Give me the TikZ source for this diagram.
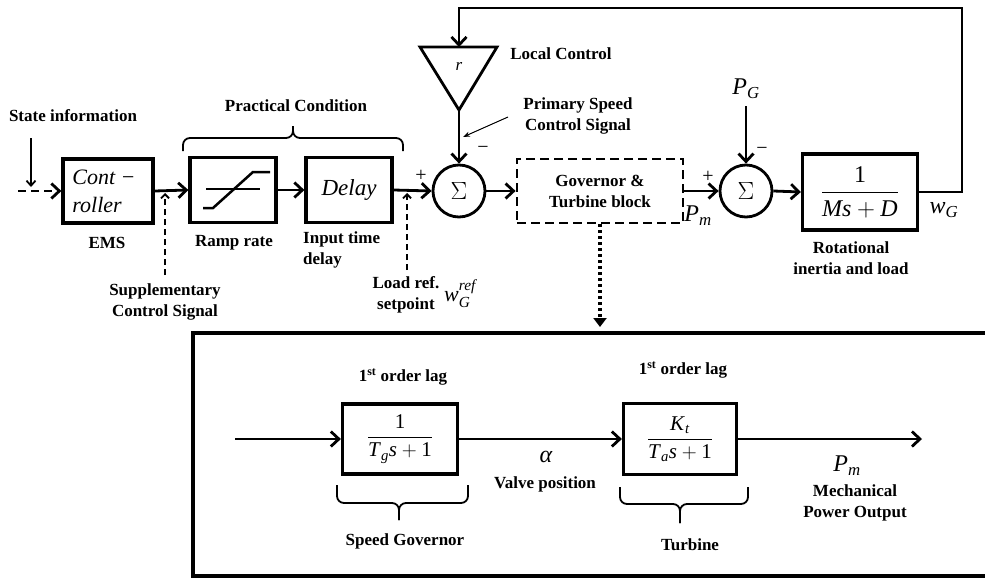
\documentclass[tikz,border=0pt]{standalone}
\usepackage{amsmath}
\usepackage{fontspec}
\setmainfont{Liberation Serif}
\usetikzlibrary{arrows.meta,calc}
\newcommand{\vi}[1]{\text{\textit{#1}}}
\begin{document}
\begin{tikzpicture}[x=1pt,y=-1pt,
  lbl/.style={font=\fontsize{17}{21}\selectfont\bfseries, align=center, inner sep=0pt},
  mth/.style={font=\fontsize{24}{26}\selectfont, inner sep=0pt},
  sgn/.style={font=\fontsize{20}{20}\selectfont, inner sep=0pt},
  blk/.style={draw, line width=3.2pt, inner sep=0pt},
  sumc/.style={draw, circle, line width=2.8pt, minimum size=52pt, inner sep=0pt, font=\fontsize{25}{25}\selectfont},
  arr/.style={line width=2.8pt, -{Straight Barb[length=8pt,width=15pt]}},
  darr/.style={line width=1.8pt, dash pattern=on 6pt off 4pt, -{Straight Barb[length=4pt,width=8pt]}},
  brc/.style={line width=1.8pt, rounded corners=7pt}]
\useasboundingbox (0,0) rectangle (985,578);

% ---------- upper loop: blocks ----------
\node[blk, minimum width=90pt, minimum height=64pt] (ctrl) at (108,191) {};
\node[font=\fontsize{22}{28}\selectfont\itshape, align=left, inner sep=0pt] (ctrltxt) at (104,191) {Cont \textminus\\roller};
\node[blk, minimum width=86pt, minimum height=65pt] (ramp) at (233,190) {};
\node[blk, minimum width=86pt, minimum height=65pt, font=\fontsize{23}{23}\selectfont\itshape] (delay) at (349,190) {Delay};
\node[sumc] (sum1) at (459,191) {$\Sigma$};
\node[draw, line width=2.8pt, dash pattern=on 9pt off 5pt, minimum width=166pt, minimum height=64pt,
      lbl] (gov) at (600,191) {Governor \&\\Turbine block};
\node[sumc] (sum2) at (746,191) {$\Sigma$};
\node[blk, minimum width=115pt, minimum height=76pt, mth] (rot) at (860,192) {$\dfrac{\text{1}}{\vi{Ms}+\vi{D}}$};

% ramp-rate limiter symbol
\draw[line width=2pt] (206,189) -- (260,189);
\draw[line width=2.5pt] (203,208) -- (213,208) -- (253,172) -- (270,172);

% gain triangle of the local control
\coordinate (tl) at (420,47);
\coordinate (tr) at (497,47);
\coordinate (tap) at (459,110);
\coordinate (ttop) at (459,47);
\draw[line width=2.8pt, line join=miter] (tl) -- (tr) -- (tap) -- cycle;
\node[font=\fontsize{17}{17}\selectfont\itshape, inner sep=0pt] (rgain) at (459,66) {r};

% ---------- upper loop: signals ----------
\coordinate (in0) at (18,191);
\draw[line width=2.8pt, dash pattern=on 8pt off 5pt, -{Straight Barb[length=8pt,width=15pt]}] (in0) -- (ctrl.west);
\coordinate (st0) at (31,138);
\coordinate (st1) at (31,187);
\draw[line width=1.8pt, -{Straight Barb[length=5pt,width=9pt]}] (st0) -- (st1);
\draw[arr] (ctrl.east) -- (ramp.west);
\draw[arr] (ramp.east) -- (delay.west);
\draw[arr] (delay.east) -- (sum1.west);
\coordinate (sup0) at (165,275);
\coordinate (sup1) at (165,193);
\draw[darr] (sup0) -- (sup1);
\coordinate (lr0) at (407,270);
\coordinate (lr1) at (407,193);
\draw[darr] (lr0) -- (lr1);
\draw[arr] (tap) -- (sum1.north);
\draw[arr] (sum1.east) -- (gov.west);
\draw[arr] (gov.east) -- (sum2.west);
\coordinate (pg0) at (746,106);
\draw[arr] (pg0) -- (sum2.north);
\draw[arr] (sum2.east) -- (rot.west);
\coordinate (fbR) at (962,8);
\coordinate (fbL) at (459,8);
\draw[arr] (rot.east) -| (fbR) -- (fbL) -- (ttop);
\coordinate (ps0) at (508,117);
\coordinate (ps1) at (463,137);
\draw[line width=1pt, -{Stealth[length=7pt,width=5pt]}] (ps0) -- (ps1);
\coordinate (dt1) at (600,327);
\draw[line width=3.2pt, dash pattern=on 3pt off 3pt, -{Triangle[length=9pt,width=13pt]}] (gov.south) -- (dt1);

% brace over the practical conditions (tip up)
\draw[brc] (183,151) -- (183,138) -- (293,138) -- (293,126);
\draw[brc] (403,151) -- (403,138) -- (293,138) -- (293,126);

% ---------- upper loop: labels ----------
\node[lbl] (lstate) at (73,116) {State information};
\node[lbl] (lpract) at (296,106) {Practical Condition};
\node[lbl] (lems) at (107,243) {EMS};
\node[lbl] (lramp) at (234,243) {Ramp rate};
\node[lbl, align=left, anchor=north west] (ldelay) at (303,232) {Input time\\delay};
\node[lbl] (lsupp) at (165,302) {Supplementary\\Control Signal};
\node[lbl] (lload) at (406,295) {Load ref.\\setpoint};
\node[mth, font=\fontsize{22}{22}\selectfont, anchor=west] (lwref) at (444,294) {$\vi{w}_{\vi{G}}^{\vi{ref}}$};
\node[lbl] (llocal) at (561,54) {Local Control};
\node[lbl] (lprim) at (578,116) {Primary Speed\\Control Signal};
\node[sgn] (p1) at (421,176) {+};
\node[sgn] (m1) at (483,150) {\textminus};
\node[sgn] (p2) at (708,177) {+};
\node[sgn] (m2) at (762,151) {\textminus};
\node[mth] (lpm) at (698,216) {$\vi{P}_{\vi{m}}$};
\node[mth] (lpg) at (746,89) {$\vi{P}_{\vi{G}}$};
\node[mth] (lwg) at (944,210) {$\vi{w}_{\vi{G}}$};
\node[lbl] (lrot) at (851,258) {Rotational\\inertia and load};

% ---------- governor and turbine detail ----------
\draw[line width=3.2pt] (1000,333) -- (193,333) -- (193,576) -- (1000,576);
\node[blk, minimum width=115pt, minimum height=70pt, font=\fontsize{21}{21}\selectfont] (gb) at (400,439) {$\dfrac{\text{1}}{\vi{T}_{\vi{g}}\vi{s}+\text{1}}$};
\node[blk, minimum width=113pt, minimum height=71pt, font=\fontsize{21}{21}\selectfont] (tb) at (680,439) {$\dfrac{\vi{K}_{\vi{t}}}{\vi{T}_{\vi{a}}\vi{s}+\text{1}}$};
\coordinate (bin) at (235,439);
\coordinate (bout) at (922,439);
\draw[arr] (bin) -- (gb.west);
\draw[arr] (gb.east) -- (tb.west);
\draw[arr] (tb.east) -- (bout);
% braces under the two lags (tip down)
\draw[brc] (337,485) -- (337,503) -- (399,503) -- (399,520);
\draw[brc] (468,485) -- (468,503) -- (399,503) -- (399,520);
\draw[brc] (620,487) -- (620,504) -- (680,504) -- (680,523);
\draw[brc] (748,487) -- (748,504) -- (680,504) -- (680,523);
\node[lbl] (llag1) at (403,377) {1\textsuperscript{st} order lag};
\node[lbl] (llag2) at (683,370) {1\textsuperscript{st} order lag};
\node[mth] (lalpha) at (546,457) {\textit{α}};
\node[lbl] (lvalve) at (545,484) {Valve position};
\node[lbl] (lgov) at (405,541) {Speed Governor};
\node[lbl] (lturb) at (690,545) {Turbine};
\node[mth] (lpm2) at (847,466) {$\vi{P}_{\vi{m}}$};
\node[lbl] (lmech) at (855,503) {Mechanical\\Power Output};
\end{tikzpicture}
\end{document}
